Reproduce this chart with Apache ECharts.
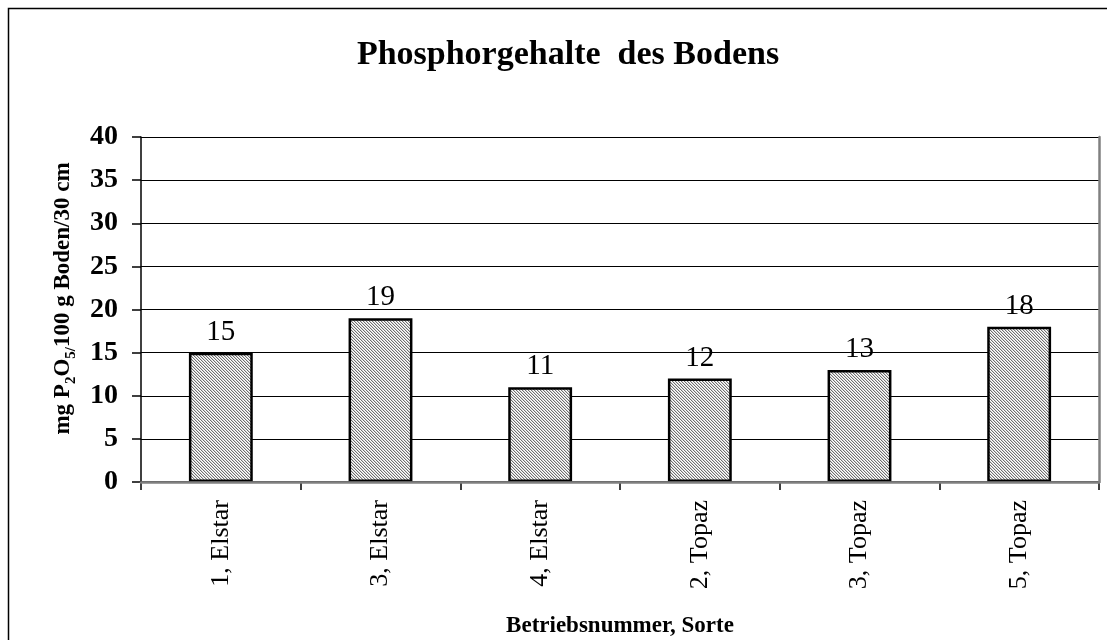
<!DOCTYPE html>
<html>
<head>
<meta charset="utf-8">
<script src="https://cdn.jsdelivr.net/npm/echarts@6/dist/echarts.min.js"></script>
<style>
html,body{margin:0;padding:0;background:#fff;}
#chart{width:1107px;height:640px;}
</style>
</head>
<body>
<div id="chart"></div>
<script>
const categories = ['1, Elstar', '3, Elstar', '4, Elstar', '2, Topaz', '3, Topaz', '5, Topaz'];
const values = [15, 19, 11, 12, 13, 18];
const yTicks = [0, 5, 10, 15, 20, 25, 30, 35, 40];
const titleText = 'Phosphorgehalte  des Bodens';
const xName = 'Betriebsnummer, Sorte';

function makePattern() {
  const c = document.createElement('canvas');
  c.width = 3; c.height = 3;
  const ctx = c.getContext('2d');
  ctx.fillStyle = '#ffffff';
  ctx.fillRect(0, 0, 3, 3);
  for (let i = 0; i < 3; i++) {
    ctx.fillStyle = '#707070';
    ctx.fillRect(i, i, 1, 1);
    ctx.fillStyle = '#d4d4d4';
    ctx.fillRect((i + 1) % 3, i, 1, 1);
  }
  return c;
}

const serif = '"Liberation Serif", "Times New Roman", serif';
const chart = echarts.init(document.getElementById('chart'), null, {renderer: 'canvas'});
chart.setOption({
  animation: false,
  backgroundColor: '#fff',
  title: {
    text: titleText,
    left: 563,
    top: 33,
    textAlign: 'center',
    textStyle: {fontFamily: serif, fontWeight: 'bold', fontSize: 34, color: '#000'}
  },
  graphic: [{
    type: 'rect',
    shape: {x: 8.5, y: 8.5, width: 1200, height: 700},
    style: {fill: 'none', stroke: '#000', lineWidth: 1.5},
    silent: true
  }],
  grid: {left: 141, top: 137, right: 8, bottom: 158, show: false, outerBoundsMode: 'none', containLabel: false},
  xAxis: [{
    type: 'category',
    data: categories,
    position: 'bottom',
    axisLine: {show: true, lineStyle: {color: '#000', width: 1.5}},
    axisTick: {show: true, alignWithLabel: false, length: 8, lineStyle: {color: '#000', width: 1.5}},
    axisLabel: {rotate: 90, margin: 18, fontFamily: serif, fontSize: 26, color: '#000'},
    name: xName,
    nameLocation: 'middle',
    nameGap: 133,
    nameTextStyle: {fontFamily: serif, fontWeight: 'bold', fontSize: 23, color: '#000'}
  }, {
    type: 'category',
    data: categories,
    position: 'top',
    z: 5,
    axisLine: {show: true, lineStyle: {color: '#808080', width: 2.5}},
    axisTick: {show: false},
    axisLabel: {show: false}
  }],
  yAxis: [{
    type: 'value',
    min: 0,
    max: 40,
    interval: 5,
    axisLine: {show: true, lineStyle: {color: '#000', width: 1.5}},
    axisTick: {show: true, length: 9, lineStyle: {color: '#000', width: 1.5}},
    axisLabel: {margin: 23, fontFamily: serif, fontWeight: 'bold', fontSize: 28, color: '#000',
      formatter: function (v) { return yTicks.indexOf(v) >= 0 ? String(v) : ''; }},
    splitLine: {show: true, lineStyle: {color: '#000', width: 1}},
    name: '{n|mg P}{s|2}{n|O}{s|5/}{n|100 g Boden/30 cm}',
    nameLocation: 'middle',
    nameGap: 62,
    nameRotate: 90,
    nameTextStyle: {
      fontFamily: serif, fontWeight: 'bold', fontSize: 23, color: '#000',
      padding: [0, 0, 0, 22],
      rich: {
        n: {fontFamily: serif, fontWeight: 'bold', fontSize: 23, color: '#000', lineHeight: 28, verticalAlign: 'bottom', padding: [0, 0, 4, 0]},
        s: {fontFamily: serif, fontWeight: 'bold', fontSize: 15, color: '#000', lineHeight: 28, verticalAlign: 'bottom'}
      }
    }
  }, {
    type: 'value',
    min: 0,
    max: 40,
    interval: 5,
    position: 'right',
    z: 5,
    axisLine: {show: true, lineStyle: {color: '#808080', width: 2.5}},
    axisTick: {show: false},
    axisLabel: {show: false},
    splitLine: {show: false}
  }],
  series: [{
    type: 'bar',
    xAxisIndex: 0,
    yAxisIndex: 0,
    data: values,
    barWidth: '40%',
    itemStyle: {
      color: {image: makePattern(), repeat: 'repeat'},
      borderColor: '#000',
      borderWidth: 2.5
    },
    label: {
      show: true,
      position: 'top',
      distance: 6,
      fontFamily: serif,
      fontSize: 29,
      color: '#000'
    }
  }]
});
</script>
</body>
</html>
